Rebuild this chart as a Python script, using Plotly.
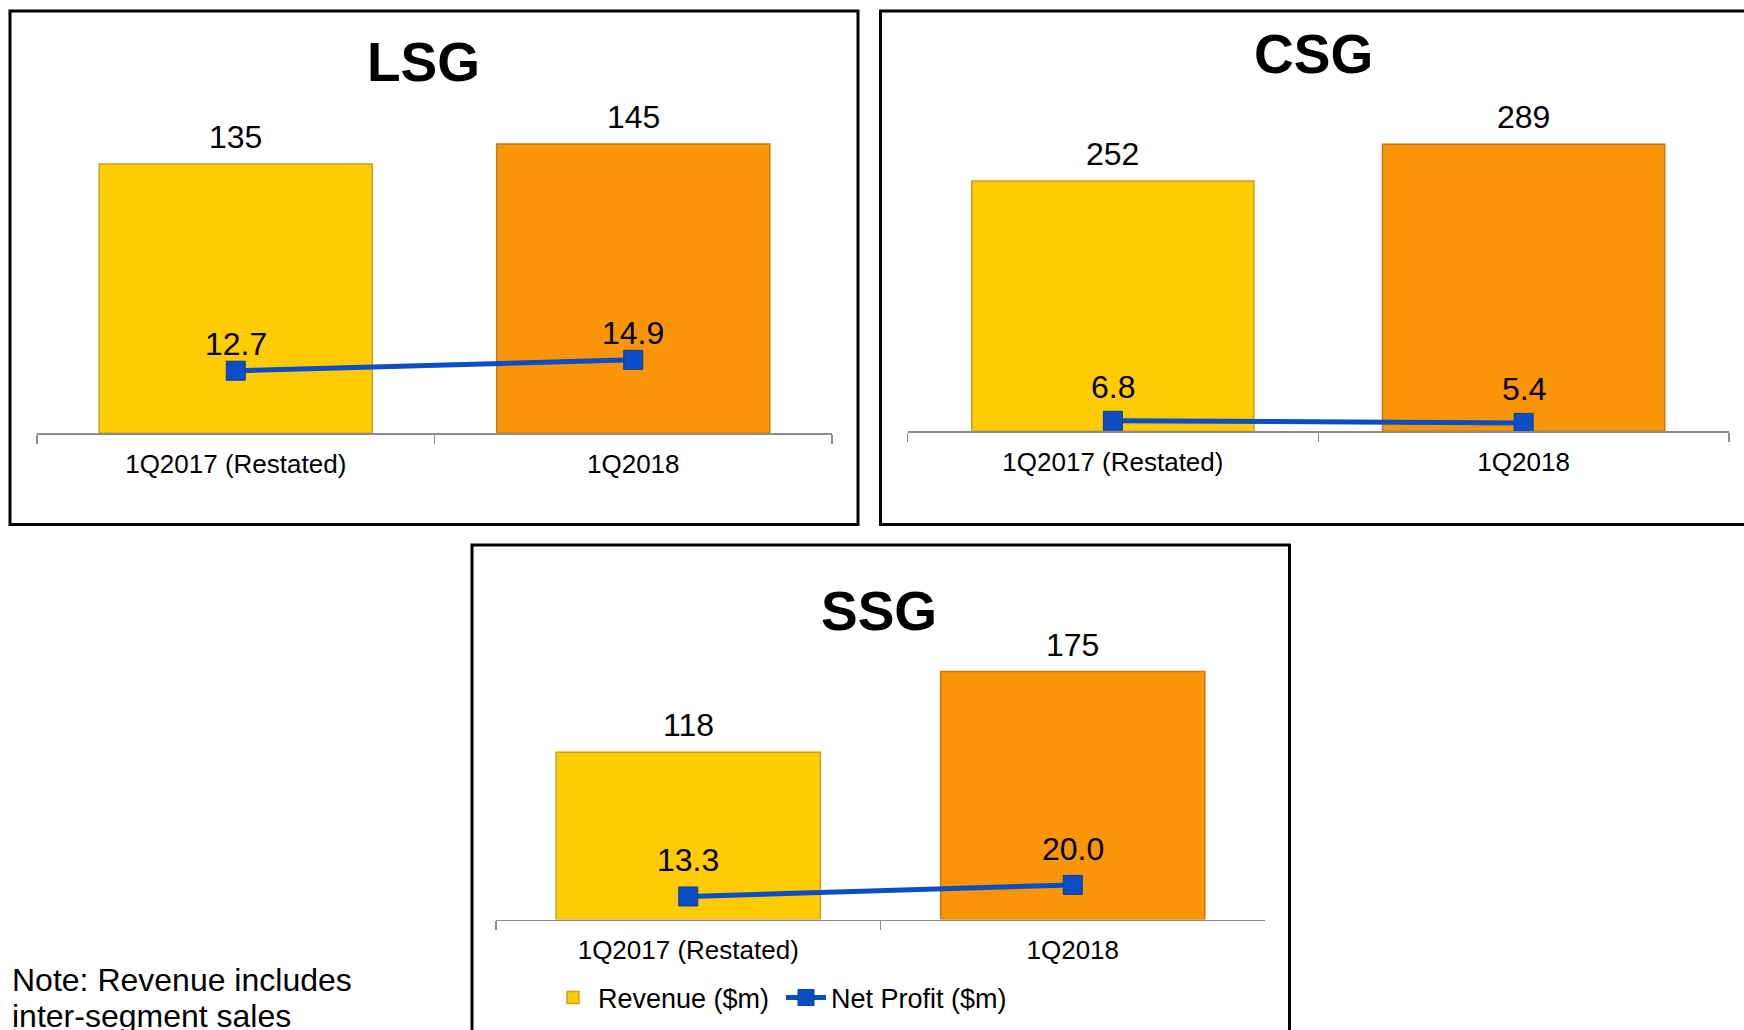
import plotly.graph_objects as go

# ---------------- data ----------------
categories = ["1Q2017 (Restated)", "1Q2018"]
panel_names = ["LSG", "CSG", "SSG"]
lsg_revenue = [135, 145]
lsg_profit = [12.7, 14.9]
csg_revenue = [252, 289]
csg_profit = [6.8, 5.4]
ssg_revenue = [118, 175]
ssg_profit = [13.3, 20.0]
legend_names = ["Revenue ($m)", "Net Profit ($m)"]
note_lines = ["Note: Revenue includes", "inter-segment sales"]

# ---------------- style ----------------
W, H = 1744, 1030
FONT = "Liberation Sans, Arial, sans-serif"
bar_colors = ["#FFCB05", "#FA9408"]
bar_edges = ["#C9A21A", "#C8780E"]
line_color = "#0B4DC2"
axis_grey = "#8C8C8C"


def px_x(v):
    return v / W


def px_y(v):
    return 1 - v / H


panels = [
    dict(name="LSG", rev=lsg_revenue, prof=lsg_profit, x0=37, x1=832, ybot=433.3, ytop=90,
         rev_scale=1.995, prof_scale=4.93, title=(423, 61.5), poff=27, legend=False),
    dict(name="CSG", rev=csg_revenue, prof=csg_profit, x0=907.5, x1=1729, ybot=431.3, ytop=90,
         rev_scale=0.993, prof_scale=1.55, title=(1313.5, 54.5), poff=34, legend=False),
    dict(name="SSG", rev=ssg_revenue, prof=ssg_profit, x0=496, x1=1265, ybot=919.5, ytop=580,
         rev_scale=1.417, prof_scale=1.73, title=(879, 611), poff=36, legend=True),
]

fig = go.Figure()
annotations = []
layout_axes = {}

for i, p in enumerate(panels):
    xa = "x" if i == 0 else f"x{i + 1}"
    ya = "y" if i == 0 else f"y{2 * i + 1}"
    ya2 = f"y{2 * i + 2}"
    xa_key = "xaxis" if i == 0 else f"xaxis{i + 1}"
    ya_key = "yaxis" if i == 0 else f"yaxis{2 * i + 1}"
    ya2_key = f"yaxis{2 * i + 2}"

    fig.add_trace(go.Bar(
        x=categories, y=p["rev"], xaxis=xa, yaxis=ya,
        name=legend_names[0], showlegend=p["legend"],
        marker=dict(color=bar_colors, line=dict(color=bar_edges, width=1.5)),
        width=0.687, hoverinfo="skip",
    ))
    fig.add_trace(go.Scatter(
        x=categories, y=p["prof"], xaxis=xa, yaxis=ya2,
        name=legend_names[1], showlegend=p["legend"], mode="lines+markers",
        line=dict(color=line_color, width=5),
        marker=dict(symbol="square", size=19, color=line_color,
                    line=dict(color="#0A3C9A", width=1)),
        hoverinfo="skip",
    ))

    h = p["ybot"] - p["ytop"]
    dom_x = [px_x(p["x0"]), px_x(p["x1"])]
    dom_y = [px_y(p["ybot"]), px_y(p["ytop"])]
    layout_axes[xa_key] = dict(
        domain=dom_x, anchor=ya, type="category",
        tickson="boundaries", ticks="outside", ticklen=9, tickwidth=1.5,
        tickcolor=axis_grey, showline=True, linecolor=axis_grey, linewidth=1.5,
        showgrid=False, zeroline=False, fixedrange=True,
        tickfont=dict(family=FONT, size=26, color="#000000"),
        ticklabelstandoff=7,
    )
    layout_axes[ya_key] = dict(domain=dom_y, anchor=xa, range=[0, h / p["rev_scale"]],
                               visible=False, fixedrange=True)
    layout_axes[ya2_key] = dict(domain=dom_y, anchor=xa, overlaying=ya, side="right",
                                range=[0, h / p["prof_scale"]], visible=False, fixedrange=True)

    for c, v in zip(categories, p["rev"]):
        annotations.append(dict(x=c, y=v, xref=xa, yref=ya, text=f"{v:g}", showarrow=False,
                                yshift=27, yanchor="middle",
                                font=dict(family=FONT, size=32, color="#000000")))
    for c, v in zip(categories, p["prof"]):
        annotations.append(dict(x=c, y=v, xref=xa, yref=ya2, text=f"{v:.1f}", showarrow=False,
                                yshift=p["poff"], yanchor="middle",
                                font=dict(family=FONT, size=32, color="#000000")))
    annotations.append(dict(x=px_x(p["title"][0]), y=px_y(p["title"][1]), xref="paper",
                            yref="paper", text=f"<b>{p['name']}</b>", showarrow=False,
                            xanchor="center", yanchor="middle",
                            font=dict(family=FONT, size=55, color="#000000")))

for j, line in enumerate(note_lines):
    annotations.append(dict(x=px_x(10), y=px_y(980 + 36 * j), xref="paper", yref="paper",
                            text=line, showarrow=False, xanchor="left", yanchor="middle",
                            font=dict(family=FONT, size=32, color="#000000")))

frames = [
    (10, 11, 858, 524.5),
    (880.5, 11, 1760, 524.5),
    (472, 545, 1289.5, 1045),
]
shapes = [dict(type="rect", xref="paper", yref="paper",
               x0=px_x(a), y0=px_y(b), x1=px_x(c), y1=px_y(d),
               line=dict(color="#000000", width=3), fillcolor="rgba(0,0,0,0)")
          for a, b, c, d in frames]

fig.update_layout(
    width=W, height=H,
    margin=dict(l=0, r=0, t=0, b=0),
    paper_bgcolor="#FFFFFF", plot_bgcolor="rgba(0,0,0,0)",
    barmode="group",
    showlegend=True,
    legend=dict(orientation="h", x=px_x(548), y=px_y(998), xanchor="left", yanchor="middle",
                font=dict(family=FONT, size=27, color="#000000"),
                bgcolor="rgba(0,0,0,0)", itemwidth=40, tracegroupgap=0,
                entrywidth=178, entrywidthmode="pixels"),
    annotations=annotations,
    shapes=shapes,
    **layout_axes,
)

fig.write_html("out.html", config={"displayModeBar": False, "staticPlot": True})
